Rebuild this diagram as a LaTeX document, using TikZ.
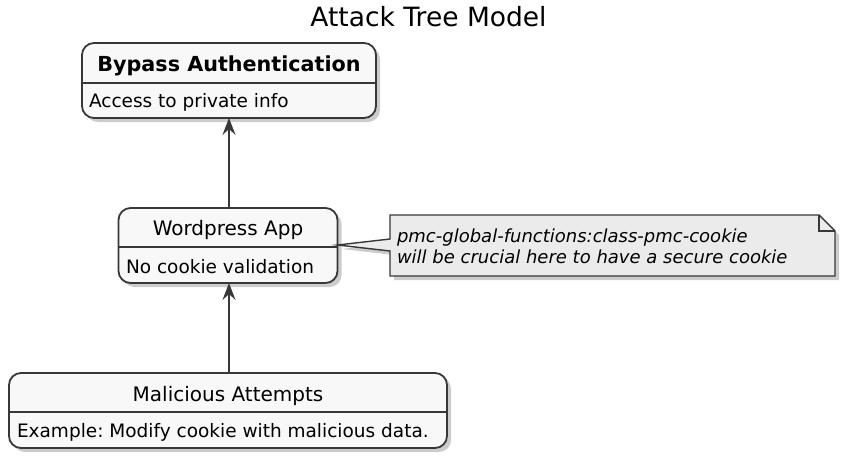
\documentclass[tikz,border=0pt]{standalone}
\usepackage{fontspec}
\setmainfont{DejaVu Sans}
\usetikzlibrary{arrows.meta,shadows}
\definecolor{boxfill}{HTML}{F8F8F8}
\definecolor{notefill}{HTML}{EBEBEB}
\definecolor{linegray}{HTML}{383838}
\frenchspacing

\begin{document}
\begin{tikzpicture}[x=1pt, y=-1pt, every node/.style={inner sep=0pt, outer sep=0pt},
	box/.style={rectangle, draw=linegray, fill=boxfill, line width=1.8pt, rounded corners=12pt, drop shadow={shadow xshift=4pt, shadow yshift=-4pt, fill=black, opacity=0.2}},
	head/.style={anchor=base, font=\fontsize{20}{24}\selectfont},
	body/.style={anchor=base west, font=\fontsize{18.5}{22}\selectfont},
	sep/.style={draw=linegray, line width=1.5pt},
	arr/.style={draw=linegray, line width=1.2pt, -{Stealth[length=17pt, width=13pt, inset=6pt]}},
	notebox/.style={draw=linegray, fill=notefill, line width=1.4pt, line join=miter, drop shadow={shadow xshift=4pt, shadow yshift=-4pt, fill=black, opacity=0.2}}]
				\useasboundingbox (0,0) rectangle (850,463);
				
				\node[font=\fontsize{26.5}{30}\selectfont, anchor=base] (title) at (428.5,26){Attack Tree Model};
				
				\node[box, minimum width=294pt, minimum height=75pt] (bypass) at (229,80.5){};
				\node[box, minimum width=219pt, minimum height=75pt] (wp) at (228,245.5){};
				\node[box, minimum width=438pt, minimum height=75pt] (mal) at (228,410.5){};
				
				\path[sep] (bypass.west |- 0,83) -- (bypass.east |- 0,83);
				\path[sep] (wp.west |- 0,247) -- (wp.east |- 0,247);
				\path[sep] (mal.west |- 0,412) -- (mal.east |- 0,412);
				
				\node[head, font=\fontsize{20.7}{24}\selectfont] (bypasshead) at (229,71){\textbf{Bypass Authentication}};
				\node[body] (bypassbody) at (89,107){Access to private info};
				\node[head] (wphead) at (228,235){Wordpress App};
				\node[body] (wpbody) at (126,273){No cookie validation};
				\node[head] (malhead) at (228,401){Malicious Attempts};
				\node[body] (malbody) at (17,437){Example: Modify cookie with malicious data.};
				
				\path (wp.north -| bypass.south) edge[arr] (bypass.south);
				\path (mal.north -| bypass.south) edge[arr] (wp.south -| bypass.south);
				
				% note with its wedge to the app box
				\path[notebox] (390,215) -- (819,215) -- (835,231) -- (835,276) -- (390,276) -- (390,251) -- (wp.east |- 0,245) -- (390,239) -- cycle;
				\path[draw=linegray, line width=1.4pt] (819,215) -- (819,231) -- (835,231);
				\node[body, align=left, font=\fontsize{18}{21}\selectfont\itshape] (notetext) at (397,263){pmc-global-functions:class-pmc-cookie\\will be crucial here to have a secure cookie};
\end{tikzpicture}
\end{document}
